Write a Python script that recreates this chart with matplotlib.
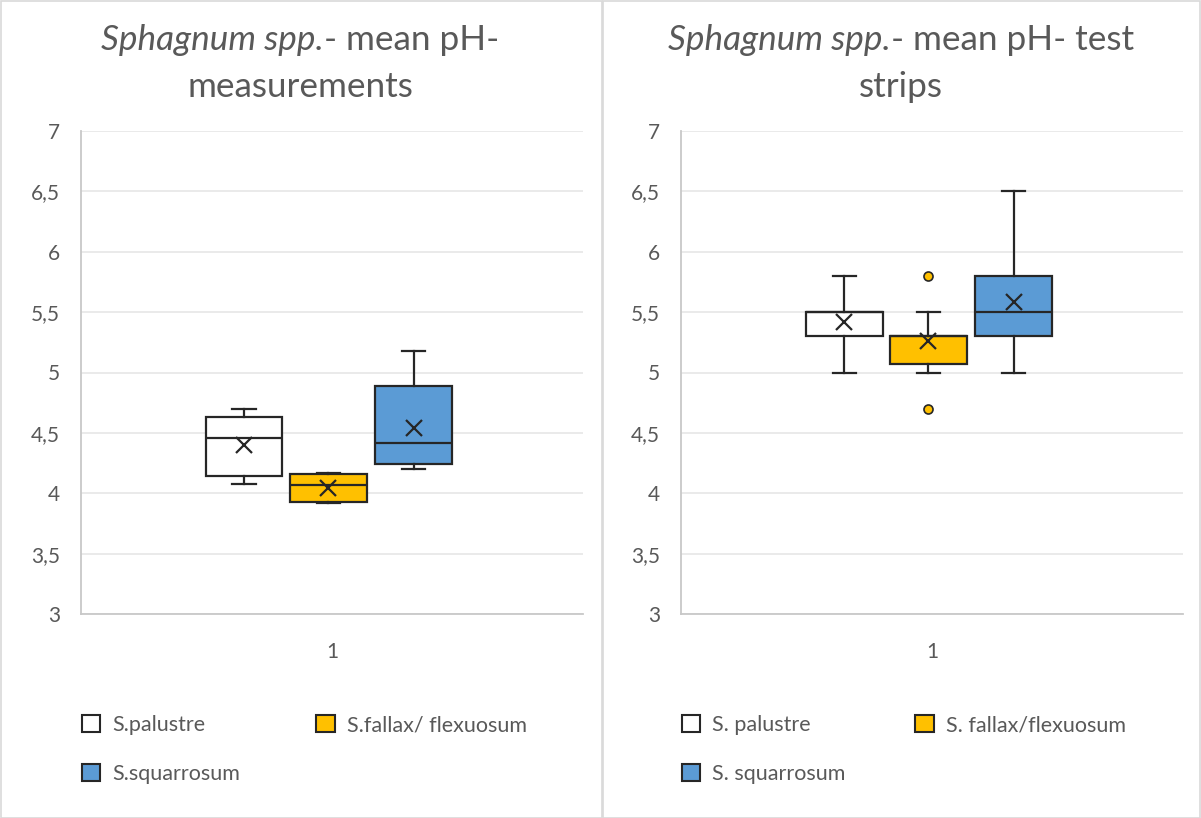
import matplotlib
matplotlib.use('Agg')
import matplotlib.pyplot as plt
from matplotlib.patches import Rectangle, Patch

plt.rcParams['font.family'] = ['Lato', 'DejaVu Sans']

# ---------------- data ----------------
labels_left = ['S.palustre', 'S.fallax/ flexuosum', 'S.squarrosum']
labels_right = ['S. palustre', 'S. fallax/flexuosum', 'S. squarrosum']
box_colors = ['#FFFFFF', '#FFC000', '#5B9BD5']
category = ['1']

# left chart: pH measurements
left_whislo = [4.08, 3.92, 4.20]
left_q1 = [4.14, 3.93, 4.24]
left_med = [4.46, 4.07, 4.42]
left_q3 = [4.63, 4.16, 4.89]
left_whishi = [4.70, 4.17, 5.18]
left_mean = [4.40, 4.04, 4.54]
left_fliers = [[], [], []]

# right chart: pH test strips
right_whislo = [5.0, 5.0, 5.0]
right_q1 = [5.3, 5.07, 5.3]
right_med = [5.5, 5.3, 5.5]
right_q3 = [5.5, 5.3, 5.8]
right_whishi = [5.8, 5.5, 6.5]
right_mean = [5.42, 5.26, 5.58]
right_fliers = [[], [5.8, 4.7], []]

yticks = [3, 3.5, 4, 4.5, 5, 5.5, 6, 6.5, 7]
ytick_labels = ['3', '3,5', '4', '4,5', '5', '5,5', '6', '6,5', '7']

title_left = [('Sphagnum spp.', '- mean pH-'), 'measurements']
title_right = [('Sphagnum spp.', '- mean pH- test'), 'strips']

# ---------------- layout ----------------
W, H = 1201, 818
fig = plt.figure(figsize=(W / 100, H / 100), dpi=100)
fig.patch.set_facecolor('white')
renderer = fig.canvas.get_renderer()

TXT = '#595959'
EDGE = '#262626'
TITLE_FS = 25.3


def px_rect(x0, y0, x1, y1):
    return [x0 / W, 1 - y1 / H, (x1 - x0) / W, (y1 - y0) / H]


# panel borders
for (x0, x1) in [(0.5, 601.5), (603, 1199.5)]:
    fig.patches.append(Rectangle((x0 / W, 0.5 / H), (x1 - x0) / W, (H - 1.5) / H,
                                 transform=fig.transFigure, fill=False,
                                 edgecolor='#D9D9D9', linewidth=1.2, zorder=0))

offsets = [-0.175, -0.007, 0.163]
bw = 0.153
capw = 0.046


def mixed_title(cx, base_y, it_part, rm_part):
    t1 = fig.text(0, 1 - base_y / H, it_part, style='italic', fontsize=TITLE_FS,
                  color=TXT, ha='left', va='baseline')
    t2 = fig.text(0, 1 - base_y / H, rm_part, fontsize=TITLE_FS,
                  color=TXT, ha='left', va='baseline')
    w1 = t1.get_window_extent(renderer).width
    w2 = t2.get_window_extent(renderer).width
    x0 = cx - (w1 + w2) / 2
    t1.set_x(x0 / W)
    t2.set_x((x0 + w1) / W)


def draw(ax, whislo, q1, med, q3, whishi, mean, fliers, labels, title, cx, legend_x, colsp):
    stats = []
    for i in range(len(labels)):
        stats.append(dict(whislo=whislo[i], q1=q1[i], med=med[i], q3=q3[i],
                          whishi=whishi[i], mean=mean[i], fliers=fliers[i], label=labels[i]))
    positions = [1 + o for o in offsets]
    bp = ax.bxp(stats, positions=positions, widths=bw, capwidths=capw,
                patch_artist=True, showmeans=True, meanline=False,
                boxprops=dict(edgecolor=EDGE, linewidth=1.6),
                medianprops=dict(color=EDGE, linewidth=1.6),
                whiskerprops=dict(color=EDGE, linewidth=1.6),
                capprops=dict(color=EDGE, linewidth=1.6),
                meanprops=dict(marker='x', markeredgecolor=EDGE, markerfacecolor=EDGE,
                               markersize=11, markeredgewidth=1.6),
                flierprops=dict(marker='o', markerfacecolor='#FFC000', markeredgecolor=EDGE,
                                markersize=6.5, markeredgewidth=1.2),
                manage_ticks=False)
    for patch, c in zip(bp['boxes'], box_colors):
        patch.set_facecolor(c)
    ax.set_xlim(0.5, 1.5)
    ax.set_ylim(3, 7)
    ax.set_yticks(yticks)
    ax.set_yticklabels(ytick_labels)
    ax.set_xticks([1])
    ax.set_xticklabels(category)
    ax.tick_params(axis='y', length=0, pad=15, labelsize=15, labelcolor=TXT)
    ax.tick_params(axis='x', length=0, pad=20, labelsize=15, labelcolor=TXT)
    ax.grid(axis='y', color='#E6E6E6', linewidth=1.2)
    ax.set_axisbelow(True)
    for s in ['top', 'right']:
        ax.spines[s].set_visible(False)
    for s in ['left', 'bottom']:
        ax.spines[s].set_color('#C8C8C8')
        ax.spines[s].set_linewidth(1.3)
    # titles
    mixed_title(cx, 50, title[0][0], title[0][1])
    fig.text(cx / W, 1 - 97 / H, title[1], ha='center', va='baseline',
             fontsize=TITLE_FS, color=TXT)
    # legend
    handles = [Patch(facecolor=c, edgecolor=EDGE, linewidth=1.5) for c in box_colors]
    order = [0, 2, 1]
    fig.legend([handles[i] for i in order], [labels[i] for i in order],
               loc='upper left', bbox_to_anchor=(legend_x / W, 1 - 715 / H),
               ncol=2, frameon=False, fontsize=15.5, labelcolor=TXT,
               handlelength=0.84, handleheight=0.84, handletextpad=0.56,
               labelspacing=1.36, columnspacing=colsp, borderpad=0, borderaxespad=0)


axL = fig.add_axes(px_rect(80.7, 131, 583, 614))
axR = fig.add_axes(px_rect(681, 131, 1183, 614))

draw(axL, left_whislo, left_q1, left_med, left_q3, left_whishi, left_mean, left_fliers,
     labels_left, title_left, 300, 82, 3.55)
draw(axR, right_whislo, right_q1, right_med, right_q3, right_whishi, right_mean, right_fliers,
     labels_right, title_right, 901, 682, 3.25)

fig.savefig('out.png', dpi=100, facecolor='white')
